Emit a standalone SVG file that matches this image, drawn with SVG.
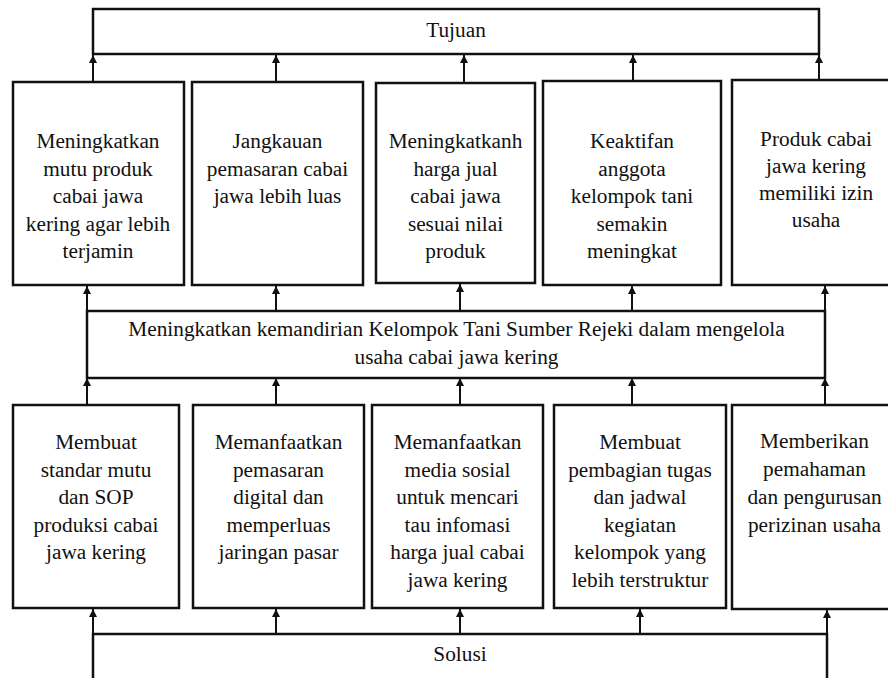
<svg xmlns="http://www.w3.org/2000/svg" width="888" height="678" viewBox="0 0 888 678">
<style>
.box{fill:#fff;stroke:#111;stroke-width:2.5}
.t{font-family:"Liberation Serif","Times New Roman",serif;font-size:21.3px;fill:#111;text-anchor:middle}
.c{stroke:#111;stroke-width:2;fill:none;marker-end:url(#ah)}
</style>
<defs>
<marker id="ah" viewBox="0 0 8 10" refX="8" refY="4" markerWidth="8" markerHeight="10" markerUnits="userSpaceOnUse" orient="auto">
<path d="M0,0 L8,4 L0,8 Z" fill="#111"/>
</marker>
</defs>
<rect width="888" height="678" fill="#fff"/>
<g id="connectors">
<path class="c" d="M93,82 V55"/>
<path class="c" d="M276,82 V55"/>
<path class="c" d="M464,83 V55"/>
<path class="c" d="M633,81 V55"/>
<path class="c" d="M819,80 V55"/>
<path class="c" d="M87,311 V286"/>
<path class="c" d="M276,311 V286"/>
<path class="c" d="M460,311 V284"/>
<path class="c" d="M632,311 V286"/>
<path class="c" d="M825,311 V286"/>
<path class="c" d="M87,405 V378"/>
<path class="c" d="M276,405 V378"/>
<path class="c" d="M460,405 V378"/>
<path class="c" d="M632,405 V378"/>
<path class="c" d="M825,405 V378"/>
<path class="c" d="M93,634 V609"/>
<path class="c" d="M276,634 V609"/>
<path class="c" d="M460,634 V609"/>
<path class="c" d="M640,634 V609"/>
<path class="c" d="M827,634 V610"/>
</g>
<g id="tujuan">
<rect class="box" x="93" y="9" width="726" height="45"/>
<text class="t" x="456" y="37">Tujuan</text>
</g>
<g id="goal1">
<rect class="box" x="13" y="82" width="171" height="203"/>
<text class="t" x="98" y="148">Meningkatkan</text>
<text class="t" x="98" y="175.5">mutu produk</text>
<text class="t" x="98" y="203">cabai jawa</text>
<text class="t" x="98" y="230.5">kering agar lebih</text>
<text class="t" x="98" y="258">terjamin</text>
</g>
<g id="goal2">
<rect class="box" x="192" y="82" width="171" height="203"/>
<text class="t" x="277.5" y="148">Jangkauan</text>
<text class="t" x="277.5" y="175.5">pemasaran cabai</text>
<text class="t" x="277.5" y="203">jawa lebih luas</text>
</g>
<g id="goal3">
<rect class="box" x="376" y="83" width="159" height="200"/>
<text class="t" x="455.5" y="148">Meningkatkanh</text>
<text class="t" x="455.5" y="175.5">harga jual</text>
<text class="t" x="455.5" y="203">cabai jawa</text>
<text class="t" x="455.5" y="230.5">sesuai nilai</text>
<text class="t" x="455.5" y="258">produk</text>
</g>
<g id="goal4">
<rect class="box" x="543" y="81" width="178" height="204"/>
<text class="t" x="632" y="148">Keaktifan</text>
<text class="t" x="632" y="175.5">anggota</text>
<text class="t" x="632" y="203">kelompok tani</text>
<text class="t" x="632" y="230.5">semakin</text>
<text class="t" x="632" y="258">meningkat</text>
</g>
<g id="goal5">
<rect class="box" x="732" y="80" width="170" height="205"/>
<text class="t" x="816" y="146">Produk cabai</text>
<text class="t" x="816" y="173">jawa kering</text>
<text class="t" x="816" y="200">memiliki izin</text>
<text class="t" x="816" y="227">usaha</text>
</g>
<g id="tengah">
<rect class="box" x="87" y="311" width="738" height="67"/>
<text class="t" x="456.5" y="336">Meningkatkan kemandirian Kelompok Tani Sumber Rejeki dalam mengelola</text>
<text class="t" x="456.5" y="364">usaha cabai jawa kering</text>
</g>
<g id="sol1">
<rect class="box" x="13" y="405" width="166" height="203"/>
<text class="t" x="96" y="449">Membuat</text>
<text class="t" x="96" y="476.5">standar mutu</text>
<text class="t" x="96" y="504">dan SOP</text>
<text class="t" x="96" y="531.5">produksi cabai</text>
<text class="t" x="96" y="559">jawa kering</text>
</g>
<g id="sol2">
<rect class="box" x="193" y="405" width="171" height="203"/>
<text class="t" x="278.5" y="449">Memanfaatkan</text>
<text class="t" x="278.5" y="476.5">pemasaran</text>
<text class="t" x="278.5" y="504">digital dan</text>
<text class="t" x="278.5" y="531.5">memperluas</text>
<text class="t" x="278.5" y="559">jaringan pasar</text>
</g>
<g id="sol3">
<rect class="box" x="372" y="405" width="171" height="203"/>
<text class="t" x="457.5" y="449">Memanfaatkan</text>
<text class="t" x="457.5" y="476.5">media sosial</text>
<text class="t" x="457.5" y="504">untuk mencari</text>
<text class="t" x="457.5" y="531.5">tau infomasi</text>
<text class="t" x="457.5" y="559">harga jual cabai</text>
<text class="t" x="457.5" y="586.5">jawa kering</text>
</g>
<g id="sol4">
<rect class="box" x="554" y="405" width="172" height="203"/>
<text class="t" x="640" y="449">Membuat</text>
<text class="t" x="640" y="476.5">pembagian tugas</text>
<text class="t" x="640" y="504">dan jadwal</text>
<text class="t" x="640" y="531.5">kegiatan</text>
<text class="t" x="640" y="559">kelompok yang</text>
<text class="t" x="640" y="586.5">lebih terstruktur</text>
</g>
<g id="sol5">
<rect class="box" x="732" y="405" width="165" height="204"/>
<text class="t" x="814.5" y="448">Memberikan</text>
<text class="t" x="814.5" y="476">pemahaman</text>
<text class="t" x="814.5" y="504">dan pengurusan</text>
<text class="t" x="814.5" y="532">perizinan usaha</text>
</g>
<g id="solusi">
<rect class="box" x="93" y="634" width="734" height="60"/>
<text class="t" x="460" y="661">Solusi</text>
</g>
</svg>
